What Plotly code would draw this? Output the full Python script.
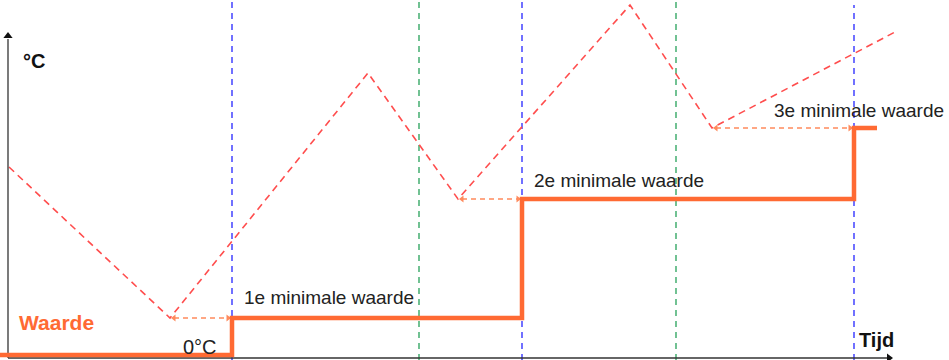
import plotly.graph_objects as go

# Data (time units, temperature units; 0 = 0°C baseline)
temp_time = [9, 170, 368, 458, 630, 712, 895]
temp_vals = [188, 37, 282, 156, 350, 227, 323]

step_time = [0, 232, 522, 854, 877]
step_vals = [0, 37, 156, 227, 227]

min_time = [170, 458, 712]
min_vals = [37, 156, 227]
min_labels = ["1e minimale waarde", "2e minimale waarde", "3e minimale waarde"]

blue_times = [232, 522, 854]
green_times = [419, 676]

RED = "#ff4d4d"
ORANGE = "#ff6a33"
ARROW = "#ff8a5c"
BLUE = "#3535ff"
GREEN = "#36a865"

fig = go.Figure()

# vertical dashed lines
for i, t in enumerate(blue_times):
    y0 = 350 if i == 2 else 356
    fig.add_trace(go.Scatter(x=[t, t], y=[-5, y0], mode="lines",
                             line=dict(color=BLUE, width=1.4, dash="6px,5px"),
                             hoverinfo="skip", showlegend=False))
for t in green_times:
    fig.add_trace(go.Scatter(x=[t, t], y=[-5, 356], mode="lines",
                             line=dict(color=GREEN, width=1.4, dash="6px,5px"),
                             hoverinfo="skip", showlegend=False))

# temperature (red dashed)
fig.add_trace(go.Scatter(x=temp_time, y=temp_vals, mode="lines",
                         line=dict(color=RED, width=1.6, dash="7px,5px"),
                         showlegend=False))

# axes
fig.add_trace(go.Scatter(x=[8, 887], y=[-3, -3], mode="lines",
                         line=dict(color="#333333", width=1.3),
                         hoverinfo="skip", showlegend=False))
fig.add_trace(go.Scatter(x=[8, 8], y=[-3, 316], mode="lines",
                         line=dict(color="#333333", width=1.3),
                         hoverinfo="skip", showlegend=False))
fig.add_trace(go.Scatter(x=[889], y=[-3], mode="markers",
                         marker=dict(symbol="triangle-right", size=8, color="#111111"),
                         hoverinfo="skip", showlegend=False))
fig.add_trace(go.Scatter(x=[8], y=[319], mode="markers",
                         marker=dict(symbol="triangle-up", size=8, color="#111111"),
                         hoverinfo="skip", showlegend=False))

# dashed double arrows from minima to step
for i in range(3):
    t0 = min_time[i]
    t1 = blue_times[i]
    v = min_vals[i]
    fig.add_trace(go.Scatter(x=[t0 + 4, t1 - 4], y=[v, v], mode="lines",
                             line=dict(color=ARROW, width=1.3, dash="5px,4px"),
                             hoverinfo="skip", showlegend=False))
    fig.add_trace(go.Scatter(x=[t0 + 4, t1 - 4], y=[v, v], mode="markers",
                             marker=dict(symbol=["triangle-left", "triangle-right"],
                                         size=6, color=ARROW),
                             hoverinfo="skip", showlegend=False))

# step line
fig.add_trace(go.Scatter(x=step_time, y=step_vals, mode="lines",
                         line=dict(color=ORANGE, width=4.5, shape="hv"),
                         showlegend=False))

# labels
FONT = "Liberation Sans, Arial, sans-serif"
label_x = [242, 532, 772]
label_y = [58, 175, 245]
for i in range(3):
    fig.add_annotation(x=label_x[i], y=label_y[i], text=min_labels[i],
                       showarrow=False, xanchor="left", yanchor="middle",
                       font=dict(family=FONT, size=19, color="#222222"))
fig.add_annotation(x=21, y=294, text="<b>°C</b>", showarrow=False, xanchor="left",
                   yanchor="middle", font=dict(family=FONT, size=20, color="#111111"))
fig.add_annotation(x=17, y=33, text="<b>Waarde</b>", showarrow=False, xanchor="left",
                   yanchor="middle", font=dict(family=FONT, size=21, color=ORANGE))
fig.add_annotation(x=181, y=8, text="0°C", showarrow=False, xanchor="left",
                   yanchor="middle", font=dict(family=FONT, size=20, color="#222222"))
fig.add_annotation(x=857, y=15, text="<b>Tijd</b>", showarrow=False, xanchor="left",
                   yanchor="middle", font=dict(family=FONT, size=20, color="#111111"))

fig.update_layout(
    width=949, height=360,
    margin=dict(l=0, r=0, t=0, b=0),
    paper_bgcolor="white", plot_bgcolor="white",
    xaxis=dict(range=[0, 949], visible=False, fixedrange=True),
    yaxis=dict(range=[-5, 355], visible=False, fixedrange=True),
)

fig.write_html("out.html",
               config={"displayModeBar": False},
               post_script="document.documentElement.style.margin='0';"
                           "document.body.style.margin='0';"
                           "document.body.style.overflow='hidden';")
